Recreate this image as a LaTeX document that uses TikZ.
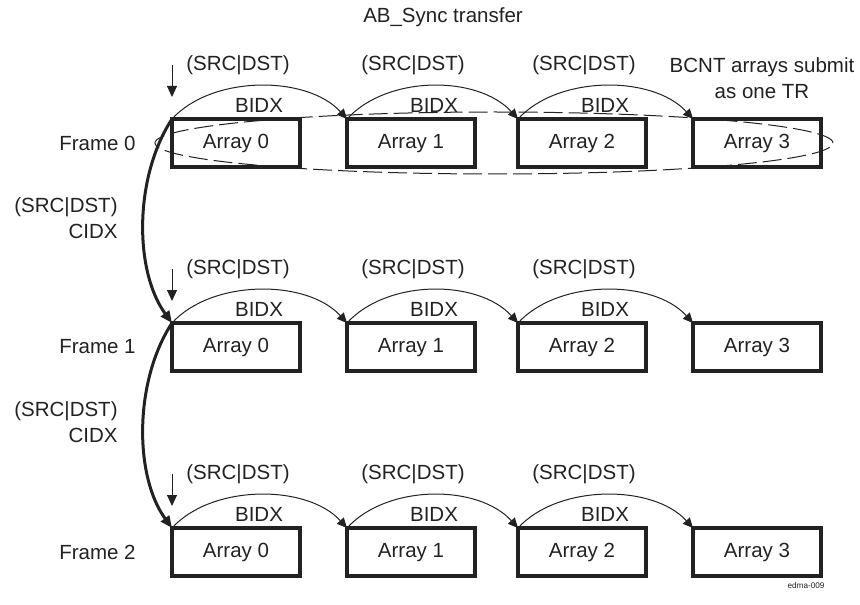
\documentclass[tikz,border=0pt]{standalone}
\usepackage{fontspec}
\setmainfont{Liberation Sans}
\usetikzlibrary{arrows.meta,shapes.geometric}
\definecolor{ink}{HTML}{222222}
\tikzset{
  arraybox/.style={draw=ink, line width=1.6pt, minimum width=64pt, minimum height=24pt, inner sep=0pt, outer sep=0pt, text=ink, text height=7.4pt, text depth=1.9pt},
  lbl/.style={text=ink, inner sep=0pt, font=\fontsize{10.25pt}{13pt}\selectfont},
  bidxarc/.style={draw=ink, line width=0.5pt, -{Triangle[length=5pt,width=4.6pt]}},
  cidxarc/.style={draw=ink, line width=1.5pt, -{Triangle[length=6pt,width=5pt]}},
  startarrow/.style={draw=ink, line width=0.5pt, -{Triangle[length=5.5pt,width=5pt]}},
  grpring/.style={draw=ink, line width=0.5pt, dash pattern=on 9.5pt off 3pt, ellipse, minimum width=339pt, minimum height=31pt, inner sep=0pt}
}
\begin{document}
\begin{tikzpicture}[x=0.5pt,y=-0.5pt]
\useasboundingbox (0,0) rectangle (860,604);
\node[lbl] (title) at (443,17) {AB\_Sync transfer};
\node[grpring] (grp) at (494,143) {};
% boxes
\foreach \r/\y in {0/143,1/347,2/552}{
  \foreach \c/\x in {0/236,1/411,2/582,3/757}{
    \node[arraybox, font=\fontsize{10.25pt}{12pt}\selectfont] (a\r\c) at (\x,\y) {Array \c};
  }
  \node[lbl, anchor=east] (frame\r) at (136,\y) {Frame \r};
}
% labels
\foreach \r/\t in {0/119,1/323,2/528}{
  \foreach \c/\x in {0/236,1/411,2/582}{
    \node[lbl] (src\r\c) at (\x+2,\t-54) {(SRC|DST)};
    \node[lbl] (bidx\r\c) at (\x+23,\t-14) {BIDX};
  }
  \coordinate (ds\r) at (172,\t-54);
  \coordinate (de\r) at (172,\t-22);
  \draw[startarrow] (ds\r) -- (de\r);
}
\node[lbl, align=center] (bcnt) at (762,78) {BCNT arrays submit\\as one TR};
% BIDX arcs
\foreach \r in {0,1,2}{
  \draw[bidxarc] (a\r0.north west) .. controls +(40,-44) and +(-40,-44) .. (a\r1.north west);
  \draw[bidxarc] (a\r1.north west) .. controls +(40,-44) and +(-40,-44) .. (a\r2.north west);
  \draw[bidxarc] (a\r2.north west) .. controls +(40,-44) and +(-40,-44) .. (a\r3.north west);
}
% CIDX arcs
\draw[cidxarc] (a00.north west) .. controls +(-38,58) and +(-38,-52) .. (a10.north west);
\draw[cidxarc] (a10.north west) .. controls +(-38,58) and +(-38,-52) .. (a20.north west);
\node[lbl, align=right, anchor=east] (cidx0) at (118,218) {(SRC|DST)\\CIDX};
\node[lbl, align=right, anchor=east] (cidx1) at (118,422) {(SRC|DST)\\CIDX};
\node[text=ink, inner sep=0pt, font=\fontsize{4.1pt}{5pt}\selectfont] (tag) at (806,586) {edma-009};
\end{tikzpicture}
\end{document}
